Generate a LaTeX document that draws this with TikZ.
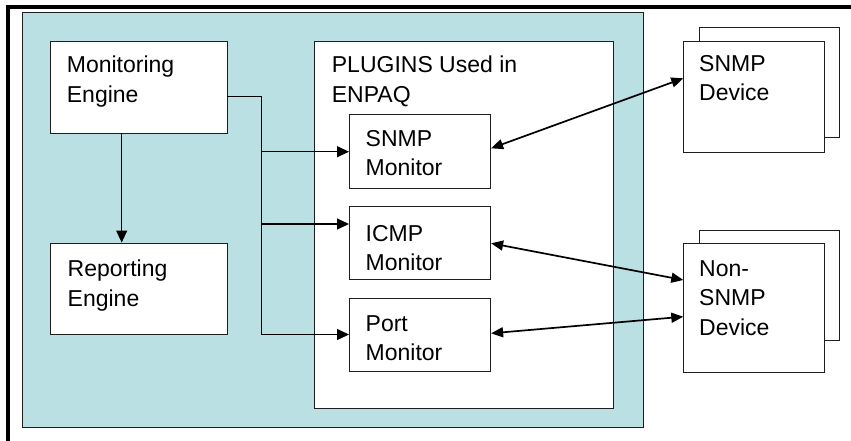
\documentclass[tikz,border=0pt]{standalone}
\usepackage{fontspec}
\setmainfont{Liberation Sans}
\usetikzlibrary{arrows.meta}
\definecolor{panelteal}{RGB}{187,224,227}
\definecolor{edge}{RGB}{30,30,30}
\begin{document}
\begin{tikzpicture}[x=1pt,y=-1pt,
  box/.style={draw=edge, line width=1.1pt, fill=white, anchor=north west, inner sep=0pt},
  txt/.style={anchor=north west, inner sep=0pt, align=left, font=\fontsize{23}{29.5}\selectfont},
  conn/.style={draw=black, line width=1.2pt},
  arr/.style={conn, -{Triangle[length=12pt,width=11pt]}},
  darr/.style={draw=black, line width=1.7pt, {Triangle[length=12pt,width=10pt]}-{Triangle[length=12pt,width=10pt]}}]
\useasboundingbox (0,0) rectangle (851,440);
% outer frame (only left and top edges visible)
\coordinate (fb) at (8.3,446);
\coordinate (fc) at (8.3,7.3);
\coordinate (fr) at (858,7.3);
\draw[line width=3.8pt, line join=miter] (fb) -- (fc) -- (fr);
% teal panel
\node[box, fill=panelteal, minimum width=621, minimum height=415.6] (panel) at (21.7,11.7) {};
% engines
\node[box, minimum width=177, minimum height=92] (me) at (50,41) {};
\node[box, minimum width=177, minimum height=91.8] (re) at (50,242.5) {};
\node[txt] (met) at (66.7,55.7) {Monitoring\\Engine};
\node[txt] (ret) at (67.5,260) {Reporting\\Engine};
% plugins container
\node[box, minimum width=299.3, minimum height=366.7] (pl) at (314,41) {};
\node[txt] (plt) at (331.7,55.7) {PLUGINS Used in\\ENPAQ};
% monitors
\node[box, minimum width=141, minimum height=74] (sm) at (349,114.3) {};
\node[box, minimum width=141, minimum height=73.3] (im) at (349,206) {};
\node[box, minimum width=141, minimum height=73] (pm) at (349,298) {};
\node[txt] (smt) at (365.5,130) {SNMP\\Monitor};
\node[txt] (imt) at (365.5,225) {ICMP\\Monitor};
\node[txt] (pmt) at (365.5,315) {Port\\Monitor};
% devices
\node[box, minimum width=140, minimum height=109.4] (sdb) at (699.3,27.3) {};
\node[box, minimum width=141, minimum height=110.7] (sd) at (683.3,41) {};
\node[txt] (sdt) at (699,55) {SNMP\\Device};
\node[box, minimum width=140, minimum height=110] (ndb) at (699.3,230) {};
\node[box, minimum width=141, minimum height=129] (nd) at (683.3,242.7) {};
\node[txt] (ndt) at (699,260) {Non-\\SNMP\\Device};
% connectors from the monitoring engine
\coordinate (m1) at (121.7,133);
\draw[arr] (m1) -- (m1 |- re.north);
\coordinate (m2) at (227,96.7);
\coordinate (bus) at (261.7,96.7);
\coordinate (busS) at (261.7,151.7);
\coordinate (busI) at (261.7,224);
\coordinate (busP) at (261.7,334.5);
\draw[conn] (m2) -- (bus) -- (busP);
\draw[arr] (busS) -- (busS -| sm.west);
\draw[arr] (busI) -- (busI -| im.west);
\draw[arr] (busP) -- (busP -| pm.west);
% double arrows to devices
\draw[darr] (sm.east |- 0,148.3) -- (sd.west |- 0,78.3);
\draw[darr] (im.east |- 0,243.3) -- (nd.west |- 0,280);
\draw[darr] (pm.east |- 0,333.3) -- (nd.west |- 0,316.7);
\end{tikzpicture}
\end{document}
